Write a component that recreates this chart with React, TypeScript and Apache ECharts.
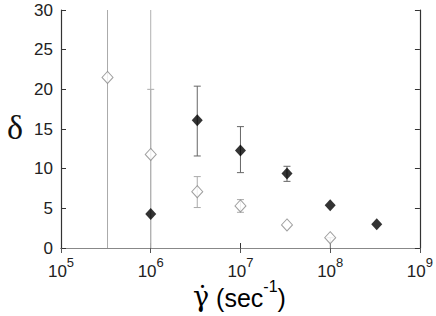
import React, { useEffect, useRef } from "react";
import * as echarts from "echarts";

const openX = [3.3e5, 1e6, 3.3e6, 1e7, 3.3e7, 1e8];
const openY = [21.5, 11.8, 7.1, 5.3, 2.9, 1.3];
const openLo = [-5, -5, 5.1, 4.5, 2.9, -3];
const openHi = [40, 20, 9.0, 6.1, 2.9, 1.3];

const filledX = [1e6, 3.3e6, 1e7, 3.3e7, 1e8, 3.3e8];
const filledY = [4.3, 16.1, 12.3, 9.4, 5.4, 3.0];
const filledLo = [-5, 11.6, 9.5, 8.4, 5.4, 3.0];
const filledHi = [40, 20.4, 15.3, 10.3, 5.4, 3.0];

const yMin = 0;
const yMax = 30;
const yStep = 5;
const xMin = 1e5;
const xMax = 1e9;

function errRender(color: string, unboundedColor: string) {
  return (params: any, api: any) => {
    const x = api.value(0);
    const lo = api.value(1);
    const hi = api.value(2);
    if (hi - lo <= 0) return { type: "group", children: [] };
    const cl = Math.max(lo, yMin);
    const ch = Math.min(hi, yMax);
    const pLo = api.coord([x, cl]);
    const pHi = api.coord([x, ch]);
    const cw = 3.5;
    const c = lo < yMin && hi > yMax ? unboundedColor : color;
    const st = { stroke: c, lineWidth: 1 };
    const children: any[] = [
      { type: "line", shape: { x1: pLo[0], y1: pLo[1], x2: pHi[0], y2: pHi[1] }, style: st },
    ];
    if (lo >= yMin) children.push({ type: "line", shape: { x1: pLo[0] - cw, y1: pLo[1], x2: pLo[0] + cw, y2: pLo[1] }, style: st });
    if (hi <= yMax) children.push({ type: "line", shape: { x1: pHi[0] - cw, y1: pHi[1], x2: pHi[0] + cw, y2: pHi[1] }, style: st });
    return { type: "group", children };
  };
}

export default function App() {
  const ref = useRef<HTMLDivElement>(null);
  useEffect(() => {
    const chart = echarts.init(ref.current!, null, { renderer: "svg" });
    const font = "'Liberation Sans', Arial, sans-serif";
    const expLabel = (v: number) => `{b|10}{s|${Math.round(Math.log10(v))}}`;
    chart.setOption({
      animation: false,
      backgroundColor: "#fff",
      grid: { left: 61, right: 13, top: 10, bottom: 68 },
      xAxis: [
        {
          type: "log",
          logBase: 10,
          min: xMin,
          max: xMax,
          position: "bottom",
          axisLine: { lineStyle: { color: "#333", width: 1.2 } },
          axisTick: { inside: true, length: 5, lineStyle: { color: "#333" } },
          splitLine: { show: false },
          axisLabel: {
            formatter: expLabel,
            margin: 8,
            rich: {
              b: { fontSize: 17, fontFamily: font, color: "#222", verticalAlign: "bottom", lineHeight: 24 },
              s: { fontSize: 13, fontFamily: font, color: "#222", verticalAlign: "top", lineHeight: 24 },
            },
          },
        },
        {
          type: "log",
          logBase: 10,
          min: xMin,
          max: xMax,
          position: "top",
          axisLine: { lineStyle: { color: "#888", width: 1.2 } },
          axisTick: { inside: true, length: 5, lineStyle: { color: "#555" } },
          axisLabel: { show: false },
          splitLine: { show: false },
        },
      ],
      yAxis: [
        {
          type: "value",
          min: yMin,
          max: yMax,
          interval: yStep,
          position: "left",
          axisLine: { show: true, lineStyle: { color: "#333", width: 1.2 } },
          axisTick: { show: true, inside: true, length: 5, lineStyle: { color: "#333" } },
          splitLine: { show: false },
          axisLabel: { fontSize: 17, fontFamily: font, color: "#222", margin: 8 },
        },
        {
          type: "value",
          min: yMin,
          max: yMax,
          interval: yStep,
          position: "right",
          axisLine: { show: true, lineStyle: { color: "#333", width: 1.2 } },
          axisTick: { show: true, inside: true, length: 5, lineStyle: { color: "#333" } },
          splitLine: { show: false },
          axisLabel: { show: false },
        },
      ],
      series: [
        {
          type: "custom",
          renderItem: errRender("#aaa", "#aaa"),
          encode: { x: 0, y: [1, 2] },
          data: openX.map((x, i) => [x, openLo[i], openHi[i]]),
          z: 1,
        },
        {
          type: "custom",
          renderItem: errRender("#666", "#b0b0b0"),
          encode: { x: 0, y: [1, 2] },
          data: filledX.map((x, i) => [x, filledLo[i], filledHi[i]]),
          z: 1,
        },
        {
          type: "scatter",
          symbol: "diamond",
          symbolSize: [11, 12],
          itemStyle: { color: "#fff", borderColor: "#888", borderWidth: 1 },
          data: openX.map((x, i) => [x, openY[i]]),
          z: 3,
        },
        {
          type: "scatter",
          symbol: "diamond",
          symbolSize: [11, 12],
          itemStyle: { color: "#000", borderColor: "#000", borderWidth: 0 },
          data: filledX.map((x, i) => [x, filledY[i]]),
          z: 3,
        },
      ],
      graphic: [
        {
          type: "text",
          left: 7,
          top: 110,
          style: { text: "δ", font: "34px 'Liberation Serif', serif", fill: "#111" },
        },
        {
          type: "text",
          left: 193,
          top: 278,
          style: {
            text: "{g|γ̇}{t| (sec}{s|-1}{t|)}",
            rich: {
              g: { fontSize: 27, fontFamily: "'DejaVu Serif', serif", color: "#111", verticalAlign: "bottom", lineHeight: 32 },
              t: { fontSize: 25, fontFamily: font, color: "#111", verticalAlign: "bottom", lineHeight: 32 },
              s: { fontSize: 16, fontFamily: font, color: "#111", verticalAlign: "top", lineHeight: 32 },
            },
          },
        },
      ],
    });
    return () => chart.dispose();
  }, []);
  return <div ref={ref} style={{ position: "fixed", left: 0, top: 0, width: 436, height: 316 }} />;
}
